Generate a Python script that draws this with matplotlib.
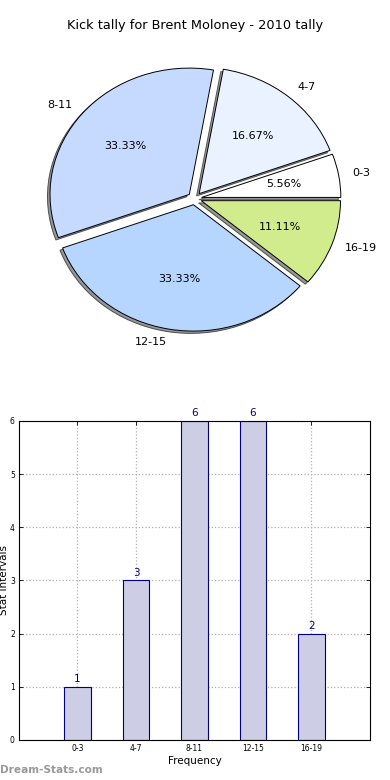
import matplotlib
matplotlib.use("Agg")
import matplotlib.pyplot as plt

categories = ["0-3", "4-7", "8-11", "12-15", "16-19"]
counts = [1, 3, 6, 6, 2]
pie_colors = ["#ffffff", "#eaf2ff", "#c6d9ff", "#b6d6ff", "#d0ec8c"]
yticks = [0, 1, 2, 3, 4, 5, 6]

title = "Kick tally for Brent Moloney - 2010 tally"

fig = plt.figure(figsize=(3.9, 7.8), dpi=100)

# Pie
ax1 = fig.add_axes([0.0526, 0.543, 0.893, 0.405])
wedges, texts, autotexts = ax1.pie(
    counts, labels=categories, colors=pie_colors, autopct="%1.2f%%",
    explode=[0.05] * len(counts),
    shadow={"ox": -0.013, "oy": -0.013, "facecolor": "#8c8c8c", "alpha": 0.9},
    startangle=0,
    wedgeprops=dict(edgecolor="black", linewidth=0.7),
    textprops=dict(fontsize=8),
)
ax1.set_aspect("auto")
ax1.set_xlim(-1.25, 1.25)
ax1.set_ylim(-1.25, 1.25)
ax1.set_title(title, fontsize=9.3, pad=8)

# Bars
ax2 = fig.add_axes([0.0487, 0.0513, 0.9, 0.409])
x = list(range(len(categories)))
ax2.bar(x, counts, width=0.45, color="#cdcde6", edgecolor="#000080", linewidth=0.8, zorder=2)
for xi, c in zip(x, counts):
    ax2.text(xi, c + 0.05, str(c), ha="center", va="bottom", fontsize=7.5, color="#000080")
ax2.set_xlim(-1, 5)
ax2.set_ylim(0, 6)
ax2.set_xticks(x)
ax2.set_xticklabels(categories, fontsize=5.5)
ax2.set_yticks(yticks)
ax2.set_yticklabels([str(v) for v in yticks], fontsize=5.5)
ax2.tick_params(direction="in", top=True, right=True, length=3, width=0.6, pad=3)
ax2.grid(True, linestyle=":", color="#b0b0b0", linewidth=0.9, zorder=0)
ax2.set_axisbelow(True)
for s in ax2.spines.values():
    s.set_linewidth(0.8)
ax2.set_xlabel("Frequency", fontsize=7.5, labelpad=2)
ax2.set_ylabel("Stat Intervals", fontsize=7.5, labelpad=1)

fig.text(0.0, 0.013, "Dream-Stats.com", fontsize=7.6, color="#999999", fontweight="bold", ha="left", va="center")

fig.savefig("out.png", dpi=100)
